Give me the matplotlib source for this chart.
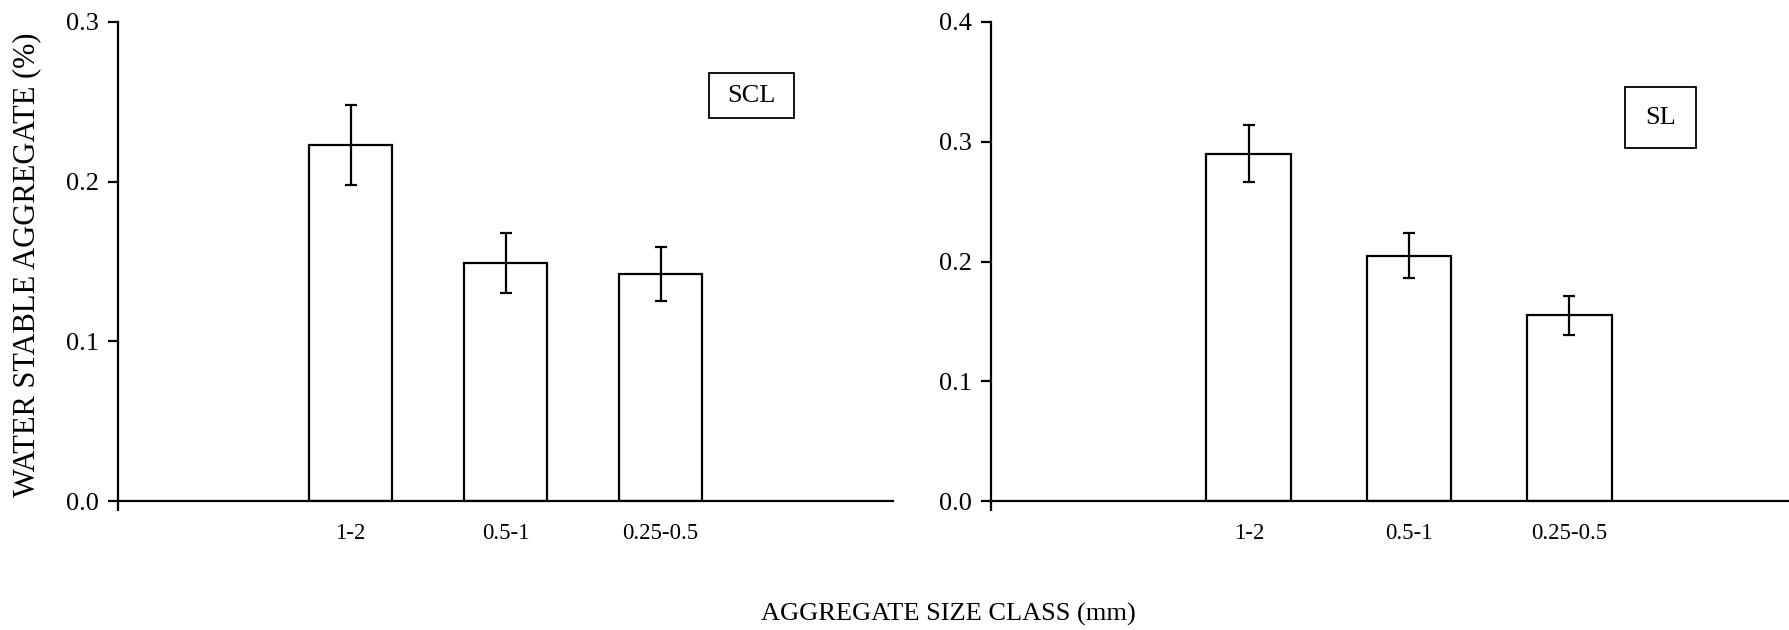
import matplotlib.pyplot as plt
from matplotlib.patches import Rectangle

# Water stable aggregates by aggregate size class, two soil textures
size_classes = ["1-2", "0.5-1", "0.25-0.5"]

scl_mean = [0.223, 0.149, 0.142]
scl_err = [0.025, 0.019, 0.017]

sl_mean = [0.290, 0.205, 0.155]
sl_err = [0.024, 0.019, 0.016]

plt.rcParams["font.family"] = ["Liberation Serif", "DejaVu Serif"]

W, H = 1789, 630
fig = plt.figure(figsize=(W / 100, H / 100), dpi=100)


def px_axes(x0, x1, y0, y1):
    # axes placed by pixel edges (top-left origin)
    return fig.add_axes([x0 / W, 1 - y1 / H, (x1 - x0) / W, (y1 - y0) / H])


def panel(ax, means, errs, ymax, xlim, label, box):
    pos = [1, 2, 3]
    ax.bar(pos, means, width=0.53, color="white", edgecolor="black",
           linewidth=1.6, zorder=2)
    ax.errorbar(pos, means, yerr=errs, fmt="none", ecolor="black",
                elinewidth=1.6, capsize=4, capthick=1.6, zorder=3)
    ax.set_xlim(*xlim)
    ax.set_ylim(0, ymax)
    ax.set_yticks([i / 10 for i in range(int(round(ymax * 10)) + 1)])
    ax.yaxis.set_major_formatter(plt.FormatStrFormatter("%.1f"))
    ax.set_xticks(pos)
    ax.set_xticklabels(size_classes)
    ax.set_xticks([xlim[0]], minor=True)
    ax.tick_params(axis="x", which="major", length=0, pad=16, labelsize=16.5)
    ax.tick_params(axis="x", which="minor", length=7, width=1.6,
                   direction="out")
    ax.tick_params(axis="y", length=7, width=1.6, direction="out",
                   labelsize=19, pad=7)
    for s in ("top", "right"):
        ax.spines[s].set_visible(False)
    for s in ("left", "bottom"):
        ax.spines[s].set_linewidth(1.6)
    ax.spines["left"].set_zorder(4)

    # boxed soil texture tag, given in pixels as (x0, y0, x1, y1)
    bx0, by0, bx1, by1 = box
    r = Rectangle((bx0 / W, 1 - by1 / H), (bx1 - bx0) / W, (by1 - by0) / H,
                  transform=fig.transFigure, facecolor="white",
                  edgecolor="black", linewidth=1.3)
    fig.add_artist(r)
    fig.text((bx0 + bx1) / 2 / W, 1 - (by0 + by1) / 2 / H, label,
             ha="center", va="center", fontsize=19)


ax1 = px_axes(118, 893, 22, 501)
ax2 = px_axes(991, 1795, 22, 501)

panel(ax1, scl_mean, scl_err, 0.3, (-0.5, 4.5), "SCL", (709, 73, 794, 118))
panel(ax2, sl_mean, sl_err, 0.4, (-0.61, 4.41), "SL", (1625, 87, 1696, 148))

fig.text(27 / W, 1 - 265 / H, "WATER STABLE AGGREGATE (%)", rotation=90,
         ha="center", va="center", fontsize=22)
fig.text(948 / W, 1 - 614 / H, "AGGREGATE SIZE CLASS (mm)",
         ha="center", va="center", fontsize=19)

fig.savefig("out.png", dpi=100, facecolor="white")
